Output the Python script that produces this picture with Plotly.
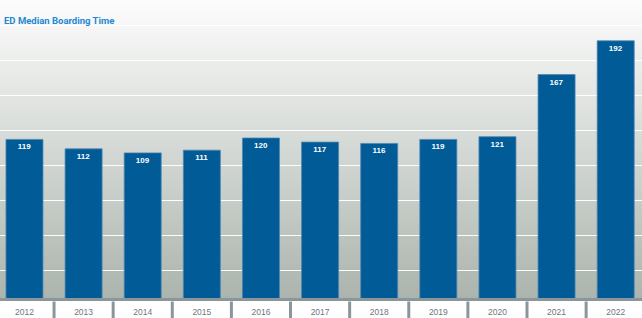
import plotly.graph_objects as go

years = ["2012", "2013", "2014", "2015", "2016", "2017", "2018", "2019", "2020", "2021", "2022"]
boarding_minutes = [119, 112, 109, 111, 120, 117, 116, 119, 121, 167, 192]
title_text = "ED Median Boarding Time"

W, H = 642, 318
plot_h = 298
px_per_unit = 1.35
y0 = 1.5
y1 = y0 + plot_h / px_per_unit

fig = go.Figure()

fig.add_trace(go.Bar(
    x=years,
    y=boarding_minutes,
    text=[str(v) for v in boarding_minutes],
    textposition="inside",
    insidetextanchor="end",
    textangle=0,
    textfont=dict(family="Liberation Sans, Arial, sans-serif", size=8, color="white", weight="bold"),
    marker=dict(color="#005b97", line=dict(color="#4f86b3", width=0.8)),
    hoverinfo="skip",
))

# gradient background: each rect runs from its top to the plot bottom, later ones cover lower part
n = 100
top = (252, 252, 252)
bot = (172, 181, 173)
shapes = []
for i in range(n):
    t = i / (n - 1)
    c = tuple(int(round(top[k] + (bot[k] - top[k]) * t)) for k in range(3))
    shapes.append(dict(
        type="rect", xref="paper", yref="paper",
        x0=0, x1=1, y0=0, y1=1 - i / n,
        fillcolor="rgb(%d,%d,%d)" % c, line=dict(width=0), layer="below",
    ))

# category separators below the baseline
for i in range(len(years) - 1):
    shapes.append(dict(
        type="line", xref="x", yref="paper",
        x0=i + 0.5, x1=i + 0.5, y0=-3.5 / plot_h, y1=-20 / plot_h,
        line=dict(color="#8b969a", width=3), layer="above",
    ))

fig.update_layout(
    width=W, height=H,
    margin=dict(l=0, r=0, t=0, b=H - plot_h, pad=0),
    paper_bgcolor="white",
    plot_bgcolor="rgba(0,0,0,0)",
    showlegend=False,
    bargap=0.374,
    shapes=shapes,
    xaxis=dict(
        type="category",
        range=[-0.414, 10.445],
        showgrid=False,
        showline=True, linecolor="#8b969a", linewidth=2.5,
        ticks="",
        ticklabelstandoff=4,
        tickfont=dict(family="Liberation Sans, Arial, sans-serif", size=8.5, color="#6f7679"),
        fixedrange=True,
    ),
    yaxis=dict(
        range=[y0, y1],
        showticklabels=False,
        showgrid=True, gridcolor="rgba(255,255,255,0.95)", gridwidth=1.2,
        tickmode="linear", tick0=100, dtick=35 / px_per_unit,
        zeroline=False, showline=False,
        fixedrange=True,
    ),
    annotations=[dict(
        text=title_text, xref="paper", yref="paper", x=0, y=1,
        xanchor="left", yanchor="middle", xshift=2, yshift=-20,
        showarrow=False,
        font=dict(family="Roboto, Liberation Sans, Arial, sans-serif", size=9.5, color="#1f88d2", weight="bold"),
    )],
)

fig.write_html("out.html", config={"displayModeBar": False})
